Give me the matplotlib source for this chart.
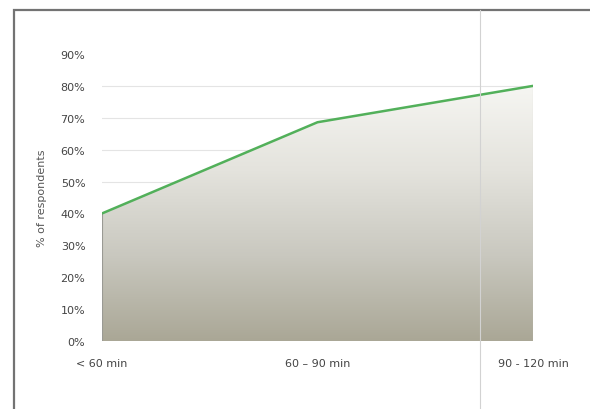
import numpy as np
import matplotlib
matplotlib.use("Agg")
import matplotlib.pyplot as plt
from matplotlib.colors import LinearSegmentedColormap
from matplotlib.patches import Rectangle
from matplotlib.lines import Line2D

# --- data ---
categories = ["< 60 min", "60 \u2013 90 min", "90 - 120 min"]
share = [0.40, 0.686, 0.80]
y_ticks = [0.0, 0.1, 0.2, 0.3, 0.4, 0.5, 0.6, 0.7, 0.8, 0.9]
y_label = "% of respondents"

fig = plt.figure(figsize=(5.9, 4.1), dpi=100)
fig.patch.set_facecolor("white")

# outer frame around the chart (runs off the bottom/right like the scan)
fig.patches.append(Rectangle((14 / 590, -0.05), 1.0, 1 - 11 / 410 + 0.05,
                             transform=fig.transFigure, fill=False,
                             edgecolor="#737373", linewidth=1.6))
# faint vertical scan line
fig.lines.append(Line2D([480 / 590, 480 / 590], [0, 1 - 11 / 410],
                        transform=fig.transFigure, color="#d2d2d2", linewidth=0.8))

ax = fig.add_axes([102 / 590, 1 - 342 / 410, 431 / 590, 287 / 410])
x = np.arange(len(categories))

ax.set_xlim(0, len(categories) - 1)
ax.set_ylim(0, 0.9)

# light gridlines
for yv in y_ticks[1:-1]:
    ax.axhline(yv, color="#e4e4e4", linewidth=0.8, zorder=0)

# gradient fill under the line
cmap = LinearSegmentedColormap.from_list("fade", ["#aaa796", "#c9c8bf", "#e4e3dd", "#f6f6f2"])
grad = np.linspace(0, 1, 256).reshape(-1, 1)
img = ax.imshow(grad, extent=[0, len(categories) - 1, 0, max(share)], origin="lower",
                aspect="auto", cmap=cmap, zorder=1)
clip = plt.Polygon(np.column_stack([np.r_[x, x[::-1]], np.r_[share, np.zeros(len(x))]]),
                   transform=ax.transData, facecolor="none", edgecolor="none")
ax.add_patch(clip)
img.set_clip_path(clip)

# side edges of the area
ax.plot([x[0], x[0]], [0, share[0]], color="#9a9a94", linewidth=0.8, zorder=2)
ax.plot([x[-1], x[-1]], [0, share[-1]], color="#c8c8c2", linewidth=0.8, zorder=2)

ax.plot(x, share, color="#52b05a", linewidth=1.8, zorder=3, solid_capstyle="round")

ax.set_xticks(x)
ax.set_xticklabels(categories, fontsize=8, color="#444444")
ax.set_yticks(y_ticks)
ax.set_yticklabels([f"{int(round(v * 100))}%" for v in y_ticks], fontsize=8, color="#444444")
ax.tick_params(axis="both", length=0)
ax.tick_params(axis="y", pad=12)
ax.tick_params(axis="x", pad=12)
ax.set_ylabel(y_label, fontsize=8, color="#555555", labelpad=10)

for s in ax.spines.values():
    s.set_visible(False)

fig.savefig("out.png", dpi=100)
